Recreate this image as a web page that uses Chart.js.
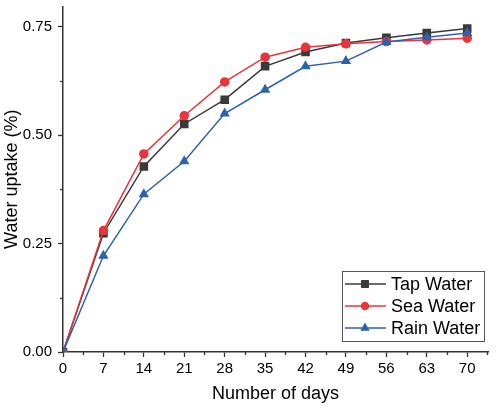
<!DOCTYPE html>
<html>
<head>
<meta charset="utf-8">
<script src="https://cdn.jsdelivr.net/npm/chart.js@4/dist/chart.umd.min.js"></script>
<style>
  html, body { margin: 0; padding: 0; background: #fff; }
  #wrap { width: 500px; height: 409px; }
</style>
</head>
<body>
<div id="wrap"><canvas id="chart" width="500" height="409"></canvas></div>
<script>
// Data
const days = [0, 7, 14, 21, 28, 35, 42, 49, 56, 63, 70];
const tapWater = [0, 0.274, 0.428, 0.526, 0.582, 0.659, 0.692, 0.713, 0.725, 0.736, 0.746];
const seaWater = [0, 0.280, 0.457, 0.545, 0.623, 0.680, 0.703, 0.711, 0.716, 0.720, 0.724];
const rainWater = [0, 0.222, 0.364, 0.440, 0.550, 0.605, 0.659, 0.671, 0.715, 0.726, 0.736];
const xTicks = [0, 7, 14, 21, 28, 35, 42, 49, 56, 63, 70];
const yTicks = [0, 0.25, 0.5, 0.75];

const FONT = "'Liberation Sans', Arial, sans-serif";
const AXIS_COLOR = '#333';

const toPoints = (ys) => days.map((d, i) => ({ x: d, y: ys[i] }));

// small minor ticks + the boxed legend inside the plot
const extras = {
    id: 'extras',
    afterDraw(chart) {
        const ctx = chart.ctx;
        const xs = chart.scales.x, ys = chart.scales.y;
        ctx.save();
        ctx.strokeStyle = AXIS_COLOR;
        ctx.lineWidth = 1.3;
        // minor ticks x
        for (let v = 3.5; v <= xs.max; v += 7) {
            const px = Math.round(xs.getPixelForValue(v)) + 0.5;
            ctx.beginPath();
            ctx.moveTo(px, xs.top);
            ctx.lineTo(px, xs.top + 3);
            ctx.stroke();
        }
        // minor ticks y
        for (let v = 0.125; v <= ys.max; v += 0.25) {
            const py = Math.round(ys.getPixelForValue(v)) + 0.5;
            ctx.beginPath();
            ctx.moveTo(ys.right, py);
            ctx.lineTo(ys.right - 3, py);
            ctx.stroke();
        }

        // legend box
        const bx = 342, by = 271, bw = 142, bh = 70;
        ctx.fillStyle = '#fff';
        ctx.fillRect(bx, by, bw, bh);
        ctx.strokeStyle = '#555';
        ctx.lineWidth = 1;
        ctx.strokeRect(bx + 0.5, by + 0.5, bw, bh);
        ctx.font = '18px ' + FONT;
        ctx.textBaseline = 'middle';
        chart.data.datasets.forEach((ds, i) => {
            const cy = by + 13 + i * 22;
            ctx.strokeStyle = ds.borderColor;
            ctx.lineWidth = 1.5;
            ctx.beginPath();
            ctx.moveTo(bx + 3, cy);
            ctx.lineTo(bx + 44, cy);
            ctx.stroke();
            ctx.fillStyle = ds.pointBackgroundColor;
            ctx.strokeStyle = ds.pointBackgroundColor;
            Chart.helpers.drawPoint(ctx, {
                pointStyle: ds.pointStyle,
                radius: ds.pointRadius - 0.5,
                borderWidth: 1
            }, bx + 23, cy);
            ctx.fillStyle = '#000';
            ctx.fillText(ds.label, bx + 49, cy + 1);
        });
        ctx.restore();
    }
};

const ctx = document.getElementById('chart').getContext('2d');
new Chart(ctx, {
    type: 'line',
    data: {
        datasets: [
            {
                label: 'Tap Water',
                data: toPoints(tapWater),
                borderColor: '#3a3a3a',
                backgroundColor: '#3a3a3a',
                pointBackgroundColor: '#3a3a3a',
                pointBorderColor: '#3a3a3a',
                pointStyle: 'rect',
                pointRadius: 5,
                borderWidth: 1.5,
                order: 2
            },
            {
                label: 'Sea Water',
                data: toPoints(seaWater),
                borderColor: '#e8343a',
                backgroundColor: '#e8343a',
                pointBackgroundColor: '#e8343a',
                pointBorderColor: '#e8343a',
                pointStyle: 'circle',
                pointRadius: 4,
                borderWidth: 1.5,
                order: 1
            },
            {
                label: 'Rain Water',
                data: toPoints(rainWater),
                borderColor: '#2d62ad',
                backgroundColor: '#2d62ad',
                pointBackgroundColor: '#2d62ad',
                pointBorderColor: '#2d62ad',
                pointStyle: 'triangle',
                pointRadius: 4.5,
                borderWidth: 1.5,
                order: 0
            }
        ]
    },
    options: {
        responsive: false,
        animation: false,
        events: [],
        layout: { padding: { top: 3, right: 12, left: 0, bottom: 0 } },
        plugins: {
            legend: { display: false },
            tooltip: { enabled: false }
        },
        scales: {
            x: {
                type: 'linear',
                min: 0,
                max: 73.6,
                afterBuildTicks: (scale) => { scale.ticks = xTicks.map(v => ({ value: v })); },
                afterFit: (scale) => {
                    scale.height = 57;
                    scale.paddingLeft = 0; scale.paddingRight = 0;
                },
                border: { display: true, color: AXIS_COLOR, width: 1.5 },
                grid: { display: true, drawOnChartArea: false, drawTicks: true, tickLength: 5, tickColor: AXIS_COLOR, tickWidth: 1.3 },
                ticks: { color: '#000', font: { family: FONT, size: 15 }, padding: 3, maxRotation: 0 },
                title: { display: true, text: 'Number of days', color: '#000', font: { family: FONT, size: 18 }, padding: { top: 4, bottom: 4 } }
            },
            y: {
                type: 'linear',
                min: 0,
                max: 0.797,
                afterBuildTicks: (scale) => { scale.ticks = yTicks.map(v => ({ value: v })); },
                afterFit: (scale) => {
                    scale.width = 63;
                    scale.paddingTop = 0; scale.paddingBottom = 0;
                },
                border: { display: true, color: AXIS_COLOR, width: 1.5 },
                grid: { display: true, drawOnChartArea: false, drawTicks: true, tickLength: 5, tickColor: AXIS_COLOR, tickWidth: 1.3 },
                ticks: {
                    color: '#000',
                    font: { family: FONT, size: 15 },
                    padding: 6,
                    callback: (v) => v.toFixed(2)
                },
                title: { display: true, text: 'Water uptake (%)', color: '#000', font: { family: FONT, size: 18 }, padding: { top: 1, bottom: 0 } }
            }
        }
    },
    plugins: [extras]
});
</script>
</body>
</html>
